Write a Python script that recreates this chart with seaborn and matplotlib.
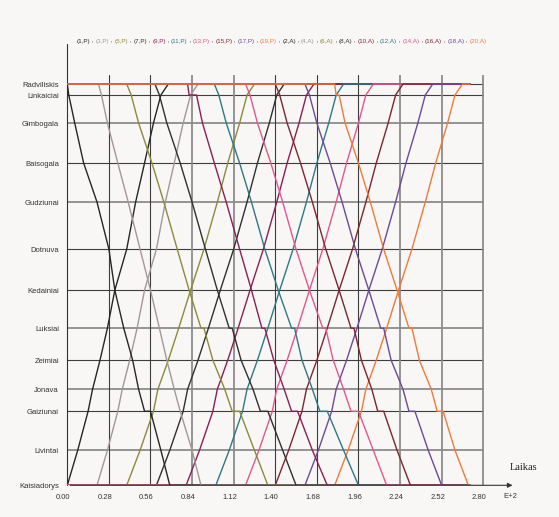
import matplotlib
matplotlib.use("Agg")
import matplotlib.pyplot as plt
import seaborn as sns
from matplotlib.offsetbox import TextArea, HPacker, AnchoredOffsetbox
from matplotlib.transforms import ScaledTranslation

# stations from Radviliskis (top) to Kaisiadorys (bottom) and their distance along the line
stations = ["Radviliskis", "Linkaiciai", "Gimbogala", "Baisogala", "Gudziunai", "Dotnuva",
            "Kedainiai", "Luksiai", "Zeimiai", "Jonava", "Gaiziunai", "Livintai", "Kaisiadorys"]
distance = [0, 11, 39, 79, 118, 165, 206, 244, 276, 305, 327, 366, 401]

# minutes at each station, in running order; a pair = arrive / leave
p_trains = {
    "(1,P)": [0, 1, 5, 11, 20, 28, 32, 38, 44, 48, (52, 56), 63, 69],
    "(3,P)": [21, 23, 27, 34, 41, 49, 56, 62, 67, 72, 76, 84, 90],
    "(5,P)": [40, 43, 48, 57, 65, 74, 82, (90, 92), 98, 106, (111, 116), 126, 135],
    "(7,P)": [59, 62, 67, 76, 84, 93, 101, (109, 111), 117, 125, (130, 135), 145, 154],
    "(9,P)": [81, (82, 87), 91, 99, 107, 116, 124, (131, 133), 139, 146, (151, 155), 165, 175],
    "(11,P)": [99, 102, 107, 116, 124, 133, 142, (151, 153), 158, 165, (170, 175), 186, 196],
    "(13,P)": [120, 123, 128, 137, 145, 154, 163, (172, 174), 179, 186, (191, 196), 206, 215],
    "(15,P)": [140, 143, 148, 157, 165, 174, 183, (191, 193), 198, 205, (209, 213), 222, 231],
    "(17,P)": [160, 163, 168, 177, 185, 194, 203, (211, 213), 218, 226, (230, 234), 243, 252],
    "(19,P)": [180, (181, 183), 187, 196, 204, 213, 222, (230, 232), 237, 245, (249, 253), 261, 270],
}
# up trains, Kaisiadorys first
a_trains = {
    "(2,A)": [0, 7, 14, 17, 22, 27, 32, 40, 46, 52, 58, 63, 68],
    "(4,A)": [20, 27, 34, 37, 42, 47, 52, 60, 66, 72, 78, 83, 88],
    "(6,A)": [40, 49, 58, 61, 68, 75, 83, 92, 101, 108, 116, 121, 126],
    "(8,A)": [60, 69, 78, 81, 88, 95, 103, 112, 121, 128, 136, 141, 146],
    "(10,A)": [80, 89, 98, 101, 108, 115, 123, 132, 141, 148, 156, 161, 166],
    "(12,A)": [100, 109, 118, 121, 128, 135, 143, 152, 161, 168, 176, 181, 186],
    "(14,A)": [120, 129, 138, 141, 148, 155, 163, 172, 181, 188, 196, 201, 206],
    "(16,A)": [140, 149, 158, 161, 168, 175, 183, 192, 201, 208, 216, 221, 226],
    "(18,A)": [160, 169, 178, 181, 188, 195, 203, 212, 221, 228, 236, 241, 246],
    "(20,A)": [180, 189, 198, 201, 208, 215, 223, 232, 241, 248, 256, 261, 266],
}
end_time = 271
palette = ["#262626", "#a39797", "#8c8a3c", "#303030", "#8a1f55",
           "#2e7884", "#e5558f", "#7a2630", "#6c4a96", "#f27a3a"]
x_ticks = [0, 28, 56, 84, 112, 140, 168, 196, 224, 252, 280]
# grid lines that come out pale in the original
pale_x = [84, 112, 224, 252, 280]
pale_y = [39, 118, 244, 305, 366]

sns.set_theme(style="white")
plt.rcParams["font.family"] = ["Liberation Sans", "DejaVu Sans"]
bg = "#f8f7f5"
fig = plt.figure(figsize=(5.59, 5.17), dpi=100, facecolor=bg)
ax = fig.add_axes([0.1204, 0.0613, 0.7706, 0.7936])
ax.set_facecolor(bg)
ax.set_xlim(0, 290)
ax.set_ylim(distance[-1], -9)

for d in distance:
    pale = d in pale_y
    ax.plot([0, 280], [d, d], color="#8c8c8c" if pale else "#3e3e3e",
            lw=1.3 if pale else 0.8, zorder=1)
for t in x_ticks[1:]:
    pale = t in pale_x
    ax.plot([t, t], [-9, distance[-1]], color="#8c8c8c" if pale else "#3e3e3e",
            lw=1.3 if pale else 0.8, zorder=1)


def draw(times, dist, color):
    xs, ys = [0], [dist[0]]
    for t, d in zip(times, dist):
        for v in (t if isinstance(t, tuple) else (t,)):
            xs.append(v)
            ys.append(d)
    xs.append(end_time)
    ys.append(dist[-1])
    sns.lineplot(x=xs, y=ys, sort=False, estimator=None, color=color, lw=1.0, ax=ax, zorder=3)


for (name, times), c in zip(a_trains.items(), palette):
    draw(times, distance[::-1], c)
for (name, times), c in zip(p_trains.items(), palette):
    draw(times, distance, c)

ax.set_yticks(distance)
ax.set_yticklabels(stations, fontsize=5.5, color="#333333")
ax.set_xticks(x_ticks)
ax.set_xticklabels([f"{t / 100:.2f}" for t in x_ticks], fontsize=5.5, color="#333333")
ax.tick_params(length=0, pad=6)
shift = ScaledTranslation(-0.04, 0, fig.dpi_scale_trans)
for lbl in ax.get_xticklabels():
    lbl.set_transform(lbl.get_transform() + shift)
for s in ["top", "right", "left", "bottom"]:
    ax.spines[s].set_visible(False)

# axis lines with arrow heads
ax.annotate("", xy=(1.04, 0), xycoords="axes fraction", xytext=(0, 0),
            arrowprops=dict(arrowstyle="-|>", color="#333333", lw=0.8, mutation_scale=7))
ax.plot([0, 0], [distance[-1], -9], color="#333333", lw=0.8, clip_on=False, zorder=2)
fig.add_artist(plt.Line2D([67.3 / 559, 67.3 / 559], [1 - 75 / 517, 1 - 44 / 517],
                          color="#333333", lw=0.8))
fig.text(510 / 559, 1 - 468 / 517, "Laikas", family="Liberation Serif", fontsize=7.5,
         va="center", ha="left", color="#222222")
fig.text(503 / 559, 1 - 497 / 517, "E+2", fontsize=5.5, va="center", ha="left", color="#333333")

# coloured legend line on top
parts = []
names = list(p_trains) + list(a_trains)
cols = palette + palette
for i, (n, c) in enumerate(zip(names, cols)):
    if i:
        parts.append(TextArea(" , ", textprops=dict(color="#222222", fontsize=4.5)))
    parts.append(TextArea(n, textprops=dict(color=c, fontsize=4.5)))
box = HPacker(children=parts, align="baseline", pad=0, sep=0)
anch = AnchoredOffsetbox(loc="center left", child=box, frameon=False, pad=0,
                         bbox_to_anchor=(69 / 559, 1 - 41 / 517), bbox_transform=fig.transFigure)
fig.add_artist(anch)

fig.savefig("out.png", dpi=100, facecolor=bg)
